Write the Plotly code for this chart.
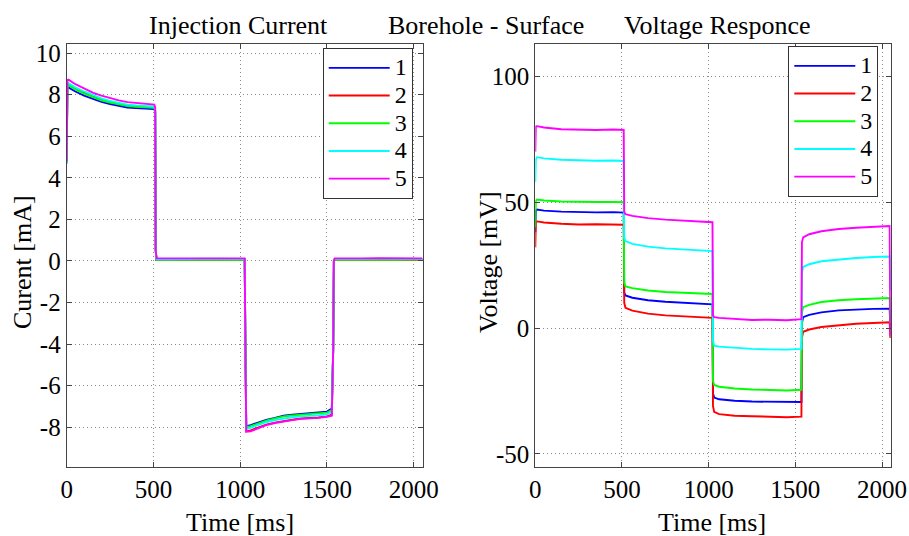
import plotly.graph_objects as go

# ---------------- data ----------------
series_names = ["1", "2", "3", "4", "5"]
series_colors = ["#0000ff", "#ff0000", "#00ff00", "#00ffff", "#ff00ff"]

# Injection current [mA]
t_cur = [0, 4, 10, 50, 100, 150, 200, 250, 300, 350, 400, 450, 505, 510, 513, 518,
         600, 700, 800, 900, 1000, 1026, 1030, 1035, 1060, 1100, 1150, 1200, 1250,
         1300, 1350, 1400, 1450, 1500, 1528, 1536, 1540, 1545, 1600, 1700, 1800,
         1900, 2000, 2050]
cur_1 = [4.7, 8.30, 8.35, 8.15, 7.95, 7.80, 7.65, 7.55, 7.45, 7.38, 7.35, 7.32, 7.30, 7.15, 0.50, 0.05,
         0.08, 0.07, 0.09, 0.08, 0.08, 0.08, -4.1, -7.95, -7.90, -7.78, -7.65, -7.55, -7.45,
         -7.40, -7.36, -7.33, -7.30, -7.25, -7.10, -4.3, 0.00, 0.10, 0.10, 0.09, 0.10,
         0.09, 0.08, 0.08]
cur_2 = [4.7, 8.45, 8.50, 8.30, 8.10, 7.92, 7.78, 7.66, 7.56, 7.48, 7.44, 7.42, 7.40, 7.25, 0.50, 0.05,
         0.06, 0.05, 0.07, 0.06, 0.06, 0.06, -4.1, -8.20, -8.15, -8.02, -7.88, -7.78, -7.70,
         -7.64, -7.58, -7.56, -7.53, -7.48, -7.40, -4.3, 0.00, 0.06, 0.06, 0.05, 0.06,
         0.05, 0.05, 0.05]
cur_3 = [4.7, 8.40, 8.45, 8.25, 8.05, 7.88, 7.73, 7.62, 7.52, 7.45, 7.41, 7.38, 7.36, 7.20, 0.50, 0.05,
         0.05, 0.04, 0.06, 0.05, 0.06, 0.06, -4.1, -8.00, -7.95, -7.82, -7.68, -7.58, -7.48,
         -7.44, -7.40, -7.38, -7.35, -7.30, -7.18, -4.3, 0.00, 0.05, 0.05, 0.04, 0.05,
         0.05, 0.06, 0.06]
cur_4 = [4.7, 8.50, 8.55, 8.35, 8.15, 7.97, 7.82, 7.70, 7.60, 7.52, 7.48, 7.45, 7.43, 7.28, 0.50, 0.08,
         0.10, 0.09, 0.11, 0.10, 0.10, 0.10, -4.1, -8.08, -8.03, -7.90, -7.76, -7.66, -7.58,
         -7.52, -7.48, -7.46, -7.43, -7.38, -7.28, -4.3, 0.00, 0.10, 0.11, 0.10, 0.11,
         0.10, 0.10, 0.10]
cur_5 = [4.8, 8.70, 8.72, 8.50, 8.30, 8.10, 7.95, 7.82, 7.72, 7.64, 7.60, 7.56, 7.52, 7.38, 0.50, 0.12,
         0.12, 0.11, 0.13, 0.12, 0.12, 0.12, -4.1, -8.22, -8.20, -8.05, -7.90, -7.80, -7.72,
         -7.66, -7.60, -7.58, -7.55, -7.50, -7.45, -4.3, 0.00, 0.12, 0.13, 0.12, 0.13,
         0.12, 0.12, 0.12]

# Voltage response [mV]
t_vol = [0, 3, 10, 50, 150, 250, 350, 450, 510, 513, 520, 560, 650, 750, 850, 950,
         1022, 1025, 1032, 1060, 1150, 1250, 1350, 1450, 1535, 1538, 1545, 1580, 1650,
         1750, 1850, 1950, 2044, 2048]
vol_1 = [38, 46.5, 47.0, 46.6, 46.2, 46.0, 45.9, 46.0, 45.8, 14, 12.9, 12.0, 11.0, 10.4, 10.0, 9.7,
         9.4, -26, -27.6, -28.3, -28.9, -29.2, -29.3, -29.6, -29.4, 2, 4.3, 5.2, 6.2,
         7.0, 7.4, 7.6, 7.7, 0]
vol_2 = [32, 42.0, 42.3, 41.9, 41.4, 41.1, 41.2, 41.1, 41.0, 10, 8.0, 6.9, 5.7, 5.0, 4.6, 4.3,
         4.0, -31, -33.3, -34.2, -34.8, -35.0, -35.2, -35.4, -35.2, -4, -1.5, -0.6, 0.4,
         1.2, 1.7, 2.0, 2.3, -4]
vol_3 = [40, 50.5, 51.0, 50.6, 50.2, 50.0, 50.0, 50.0, 49.9, 18, 16.5, 15.8, 14.9, 14.3, 13.9, 13.7,
         13.5, -21, -22.6, -23.3, -24.0, -24.4, -24.6, -24.8, -24.5, 6, 8.3, 9.2, 10.3,
         11.0, 11.4, 11.7, 11.9, 2]
vol_4 = [58, 67.0, 67.8, 67.3, 66.8, 66.5, 66.4, 66.5, 66.3, 36, 34.5, 33.4, 32.3, 31.6, 31.1, 30.9,
         30.5, -5, -7.0, -7.4, -7.9, -8.3, -8.5, -8.6, -8.3, 22, 24.2, 25.3, 26.5,
         27.3, 27.8, 28.2, 28.4, 15]
vol_5 = [70, 80.0, 80.1, 79.6, 78.9, 78.6, 78.6, 78.8, 78.6, 46, 45.2, 44.5, 43.6, 43.0, 42.7, 42.5,
         42.0, 5, 4.3, 4.0, 3.5, 3.2, 3.3, 3.1, 3.5, 34, 36.0, 37.2, 38.4,
         39.3, 39.8, 40.2, 40.5, -3]

x_ticks = [0, 500, 1000, 1500, 2000]
x_ticktext = ["0", "500", "1000", "1500", "2000"]
cur_ticks = [-8, -6, -4, -2, 0, 2, 4, 6, 8, 10]
cur_ticktext = ["-8", "-6", "-4", "-2", "0", "2", "4", "6", "8", "10"]
vol_ticks = [-50, 0, 50, 100]
vol_ticktext = ["-50", "0", "50", "100"]

title_left = "Injection Current"
title_mid = "Borehole - Surface"
title_right = "Voltage Responce"
xlabel = "Time [ms]"
ylabel_left = "Curent [mA]"
ylabel_right = "Voltage [mV]"

# ---------------- figure ----------------
W, H = 909, 536
FONT = "Liberation Serif, Times New Roman, serif"
FS_TICK = 25
FS_TEXT = 26
FS_LEG = 19          # sets legend row spacing
FS_LEG_TEXT = 24     # rendered legend label size

fig = go.Figure()
cur_all = [cur_1, cur_2, cur_3, cur_4, cur_5]
vol_all = [vol_1, vol_2, vol_3, vol_4, vol_5]

def leg_label(n):
    return "<span style='font-size:%dpx'>%s</span>" % (FS_LEG_TEXT, n)

for name, col, yv in zip(series_names, series_colors, cur_all):
    fig.add_trace(go.Scatter(x=t_cur, y=yv, mode="lines", name=leg_label(name),
                             line=dict(color=col, width=1.9),
                             xaxis="x", yaxis="y", legend="legend"))
for name, col, yv in zip(series_names, series_colors, vol_all):
    fig.add_trace(go.Scatter(x=t_vol, y=yv, mode="lines", name=leg_label(name),
                             line=dict(color=col, width=1.9),
                             xaxis="x2", yaxis="y2", legend="legend2"))

def px_x(p):
    return p / W

def px_y(p):
    return 1 - p / H

axis_common = dict(showline=True, linecolor="#444", linewidth=1, mirror="ticks",
                   ticks="inside", ticklen=5, tickcolor="#444", automargin=False,
                   showgrid=True, gridcolor="#8a8a8a", griddash="1px,3px", gridwidth=1,
                   zeroline=False, tickfont=dict(family=FONT, size=FS_TICK, color="black"))

legend_common = dict(xanchor="left", yanchor="top", bgcolor="white", bordercolor="#333",
                     borderwidth=1, font=dict(family=FONT, size=FS_LEG, color="black"),
                     itemwidth=61, tracegroupgap=0)

fig.update_layout(
    template="none",
    width=W, height=H,
    margin=dict(l=0, r=0, t=0, b=0, pad=0),
    paper_bgcolor="white", plot_bgcolor="white",
    font=dict(family=FONT, size=FS_TEXT, color="black"),
    xaxis=dict(domain=[px_x(66.7), px_x(422.7)], range=[0, 2052], tickvals=x_ticks,
               ticktext=x_ticktext, anchor="y", **axis_common),
    yaxis=dict(domain=[px_y(466.7), px_y(44.3)], range=[-9.9, 10.42], tickvals=cur_ticks,
               ticktext=cur_ticktext, anchor="x", **axis_common),
    xaxis2=dict(domain=[px_x(535.3), px_x(890.7)], range=[0, 2050], tickvals=x_ticks,
                ticktext=x_ticktext, anchor="y2", **axis_common),
    yaxis2=dict(domain=[px_y(466.7), px_y(44.3)], range=[-55.05, 112.6], tickvals=vol_ticks,
                ticktext=vol_ticktext, anchor="x2", **axis_common),
    legend=dict(x=px_x(322.7), y=px_y(48), **legend_common),
    legend2=dict(x=px_x(788.3), y=px_y(46), **legend_common),
    showlegend=True,
)

ann = dict(xref="paper", yref="paper", showarrow=False,
           font=dict(family=FONT, size=FS_TEXT, color="black"))
fig.add_annotation(text=title_left, x=px_x(238), y=px_y(25), xanchor="center", yanchor="middle", **ann)
fig.add_annotation(text=title_mid, x=px_x(486), y=px_y(25), xanchor="center", yanchor="middle", **ann)
fig.add_annotation(text=title_right, x=px_x(717), y=px_y(25), xanchor="center", yanchor="middle", **ann)
fig.add_annotation(text=xlabel, x=px_x(240), y=px_y(522), xanchor="center", yanchor="middle", **ann)
fig.add_annotation(text=xlabel, x=px_x(712), y=px_y(522), xanchor="center", yanchor="middle", **ann)
fig.add_annotation(text=ylabel_left, x=px_x(22), y=px_y(262), xanchor="center", yanchor="middle",
                   textangle=-90, **ann)
fig.add_annotation(text=ylabel_right, x=px_x(488), y=px_y(262), xanchor="center", yanchor="middle",
                   textangle=-90, **ann)

fig.write_html("out.html", config={"displayModeBar": False},
               post_script="document.body.style.margin='0';document.body.style.overflow='hidden';")
